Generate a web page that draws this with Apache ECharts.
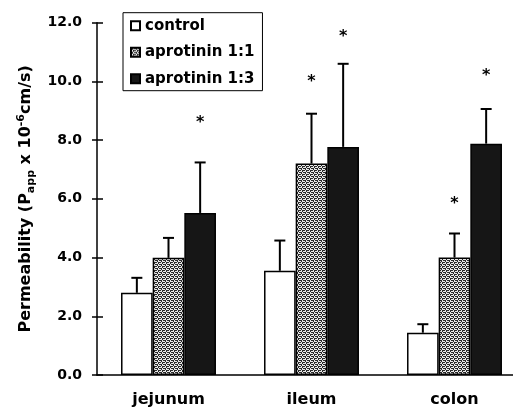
<!DOCTYPE html>
<html><head><meta charset="utf-8">
<script src="https://cdn.jsdelivr.net/npm/echarts@6/dist/echarts.min.js"></script>
<style>html,body{margin:0;padding:0;background:#fff;overflow:hidden;width:513px;height:411px}#c{width:540px;height:411px}</style>
</head><body><div id="c"></div>
<script>
const categories = ['jejunum', 'ileum', 'colon'];
const seriesNames = ['control', 'aprotinin 1:1', 'aprotinin 1:3'];
const controlMean = [2.80, 3.55, 1.44];
const controlErr = [0.51, 1.03, 0.29];
const apro11Mean = [3.99, 7.20, 4.00];
const apro11Err = [0.68, 1.70, 0.82];
const apro13Mean = [5.52, 7.77, 7.88];
const apro13Err = [1.72, 2.83, 1.18];
// asterisk positions (data units), null = no asterisk
const controlStar = [null, null, null];
const apro11Star = [null, 10.07, 5.89];
const apro13Star = [8.66, 11.61, 10.25];
const yTicks = [0, 2, 4, 6, 8, 10, 12];

const means = [controlMean, apro11Mean, apro13Mean];
const errs = [controlErr, apro11Err, apro13Err];
const stars = [controlStar, apro11Star, apro13Star];

function makePattern() {
  const cv = document.createElement('canvas');
  cv.width = 4; cv.height = 4;
  const ctx = cv.getContext('2d');
  ctx.fillStyle = '#e8e8e8'; ctx.fillRect(0, 0, 4, 4);
  ctx.fillStyle = '#2a2a2a';
  const rows = ['XX.X', '.X..', 'X.XX', '..X.'];
  rows.forEach((r, y) => { for (let x = 0; x < 4; x++) if (r[x] === 'X') ctx.fillRect(x, y, 1, 1); });
  return cv;
}
const FONT = 'DejaVu Sans';
const gapRatio = 0.336;
const fills = ['#ffffff', { image: makePattern(), repeat: 'repeat' }, '#161616'];

const series = [];
seriesNames.forEach((name, i) => {
  series.push({
    name: name, type: 'bar', data: means[i],
    barGap: '0%', barCategoryGap: (gapRatio * 100) + '%',
    itemStyle: { color: fills[i], borderColor: '#000', borderWidth: 1.5 },
    z: 2
  });
});
seriesNames.forEach((name, i) => {
  series.push({
    type: 'custom', z: 4, silent: true,
    data: means[i].map((m, k) => [k, m, m + errs[i][k]]),
    renderItem: function (params, api) {
      const k = api.value(0);
      const p0 = api.coord([k, api.value(1)]);
      const p1 = api.coord([k, api.value(2)]);
      const band = api.size([1, 0])[0];
      const bw = band * (1 - gapRatio) / 3;
      const cx = p0[0] + (i - 1) * bw;
      const st = { stroke: '#000', lineWidth: 2 };
      return { type: 'group', children: [
        { type: 'line', shape: { x1: cx, y1: p0[1], x2: cx, y2: p1[1] }, style: st },
        { type: 'line', shape: { x1: cx - 5.5, y1: p1[1], x2: cx + 5.5, y2: p1[1] }, style: st }
      ]};
    }
  });
  series.push({
    type: 'custom', z: 4, silent: true,
    data: stars[i].map((s, k) => s == null ? null : [k, s]).filter(d => d),
    renderItem: function (params, api) {
      const k = api.value(0);
      const p = api.coord([k, api.value(1)]);
      const band = api.size([1, 0])[0];
      const bw = band * (1 - gapRatio) / 3;
      const cx = p[0] + (i - 1) * bw;
      return { type: 'text', style: { text: '*', x: cx, y: p[1] - 5.8, fontSize: 16, fontWeight: 'bold', fontFamily: FONT, fill: '#000', align: 'center', verticalAlign: 'top' } };
    }
  });
});

const chart = echarts.init(document.getElementById('c'), null, { renderer: 'canvas' });
const yMin = yTicks[0], yMax = yTicks[yTicks.length - 1], yInt = yTicks[1] - yTicks[0];
chart.setOption({
  animation: false,
  backgroundColor: '#fff',
  grid: { left: 97, top: 22.7, bottom: 36, width: 429, containLabel: false },
  legend: {
    data: seriesNames, orient: 'vertical', left: 123, top: 12.7,
    icon: 'rect', itemWidth: 9, itemHeight: 9, itemGap: 10.5,
    padding: [5, 8, 4, 7], borderColor: '#000', borderWidth: 1, borderRadius: 0,
    textStyle: { fontFamily: FONT, fontWeight: 'bold', fontSize: 15, color: '#000', lineHeight: 16 }
  },
  xAxis: [{
    type: 'category', data: categories,
    axisLine: { lineStyle: { color: '#000', width: 1.5 } },
    axisTick: { length: 6, lineStyle: { color: '#000', width: 1.5 } },
    axisLabel: { margin: 17, fontFamily: FONT, fontWeight: 'bold', fontSize: 16, color: '#000' }
  }, {
    type: 'category', data: categories, position: 'bottom',
    axisLine: { show: false },
    axisTick: { inside: true, length: 6, lineStyle: { color: '#000', width: 1.5 } },
    axisLabel: { show: false }
  }],
  yAxis: [{
    type: 'value', min: yMin, max: yMax, interval: yInt,
    splitLine: { show: false },
    axisLine: { show: true, lineStyle: { color: '#000', width: 1.5 } },
    axisTick: { show: true, length: 5, lineStyle: { color: '#000', width: 1.5 } },
    axisLabel: { margin: 15, fontFamily: FONT, fontWeight: 'bold', fontSize: 14, color: '#000',
      formatter: v => v.toFixed(1) },
    name: 'Permeability (P{sub|app} x 10{sup|-6}cm/s)',
    nameLocation: 'middle', nameGap: 57,
    nameTextStyle: { fontFamily: FONT, fontWeight: 'bold', fontSize: 16, color: '#000', lineHeight: 21,
      rich: {
        sub: { fontFamily: FONT, fontWeight: 'bold', fontSize: 11, color: '#000', verticalAlign: 'bottom', lineHeight: 21 },
        sup: { fontFamily: FONT, fontWeight: 'bold', fontSize: 11, color: '#000', verticalAlign: 'top', lineHeight: 21 }
      } }
  }, {
    type: 'value', min: yMin, max: yMax, interval: yInt, position: 'left',
    splitLine: { show: false }, axisLine: { show: false },
    axisTick: { show: true, inside: true, length: 6, lineStyle: { color: '#000', width: 1.5 } },
    axisLabel: { show: false }
  }],
  series: series
});
</script></body></html>
